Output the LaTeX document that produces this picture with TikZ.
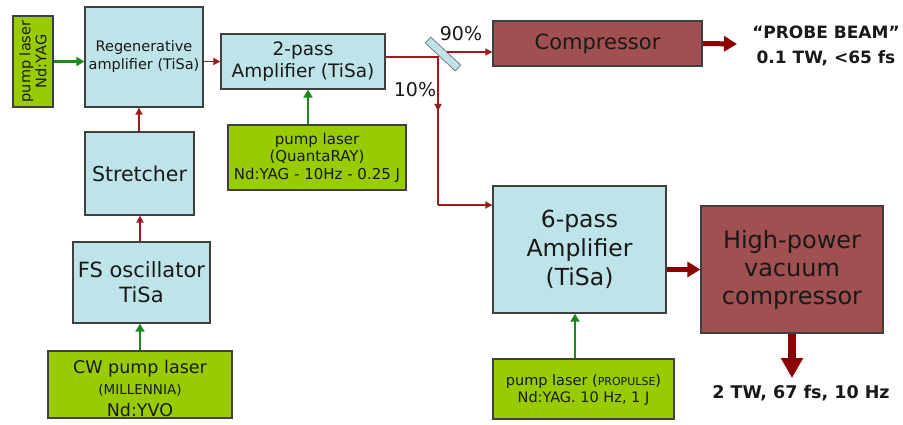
\documentclass[tikz,border=0pt]{standalone}
\usepackage{fontspec}
\setmainfont{DejaVu Sans}
\usetikzlibrary{arrows.meta,calc}
\definecolor{boxblue}{HTML}{BEE3E8}
\definecolor{pumpgreen}{HTML}{99CC00}
\definecolor{comprred}{HTML}{A05050}
\definecolor{edgegray}{HTML}{404040}
\definecolor{beamred}{HTML}{9E1B1B}
\definecolor{beamdark}{HTML}{8B0000}
\definecolor{pumpline}{HTML}{1E8A1E}
\definecolor{mirrorblue}{HTML}{BEE3E8}
\newcommand{\fsz}[2]{\fontsize{#1}{#2}\selectfont}

\begin{document}
\begin{tikzpicture}[x=1pt,y=-1pt,
  box/.style={draw=edgegray, line width=1.3pt, inner sep=0pt, align=center, text=black!90},
  bluebox/.style={box, fill=boxblue},
  greenbox/.style={box, fill=pumpgreen},
  redbox/.style={box, fill=comprred},
  pumparrow/.style={draw=pumpline, line width=2.8pt, -{Triangle[length=8pt,width=9pt]}},
  beamarrow/.style={draw=beamred, line width=1.7pt, -{Triangle[length=7pt,width=7pt]}},
  beamline/.style={draw=beamred, line width=1.7pt},
  fatarrow/.style={draw=beamdark, line width=5pt, -{Triangle[length=13pt,width=15pt]}},
  label/.style={inner sep=0pt, align=center, text=black!90},
]
\useasboundingbox (0,0) rectangle (903,425);

% ---- front end: oscillator, stretcher, regenerative amplifier ----
\node[greenbox, minimum width=40, minimum height=91] (pumpL) at (33,61.5) {};
\node[label, rotate=90, font=\fsz{14.5}{16}] (pumpLtext) at (pumpL) {pump laser\\Nd:YAG};
\node[bluebox, minimum width=118, minimum height=100, font=\fsz{14.5}{18}] (regen) at (144,57) {Regenerative\\amplifier (TiSa)};
\node[bluebox, minimum width=109, minimum height=83, font=\fsz{20.5}{24}] (stretch) at (139.5,173.5) {Stretcher};
\node[bluebox, minimum width=137, minimum height=81, font=\fsz{21}{25}] (fsosc) at (141.5,282.5) {FS oscillator\\TiSa};
\node[greenbox, minimum width=184, minimum height=67] (cwpump) at (140,384.5) {};
\node[label, font=\fsz{17.5}{22}] (cwtext) at (140,388.5) {CW pump laser\\[-1pt]{\fsz{13.5}{15}(MILLENNIA)}\\[0pt]Nd:YVO};

% ---- two-pass amplifier and its pump ----
\node[bluebox, minimum width=164, minimum height=55, font=\fsz{18.5}{22}] (twopass) at (303,61.5) {2-pass\\Amplifier (TiSa)};
\node[greenbox, minimum width=178, minimum height=65, font=\fsz{15}{17.5}] (quanta) at (317,157.5) {pump laser\\(QuantaRAY)\\Nd:YAG - 10Hz - 0.25 J};

% ---- beam splitter and probe line ----
\node[draw=edgegray!70, fill=mirrorblue, line width=0.8pt, minimum width=41, minimum height=8, inner sep=0pt, rotate=-43] (mirror) at (443,54) {};
\node[redbox, minimum width=209, minimum height=45, font=\fsz{21}{24}] (compr) at (597.5,43.5) {Compressor};
\node[label, font=\bfseries\fsz{17}{25}] (probe) at (826,45.5) {“PROBE BEAM”\\0.1 TW, <65 fs};
\node[label, font=\fsz{19}{20}] (p90) at (461,34) {90\%};
\node[label, font=\fsz{19}{20}] (p10) at (415,89.5) {10\%};

% ---- main amplification chain ----
\node[bluebox, minimum width=173, minimum height=127, font=\fsz{23.5}{29}] (sixpass) at (579.5,249.5) {6-pass\\Amplifier\\(TiSa)};
\node[redbox, minimum width=182, minimum height=127, font=\fsz{24}{28}] (hpcomp) at (792,269.5) {High-power\\vacuum\\compressor};
\node[greenbox, minimum width=181, minimum height=60] (propulse) at (583.5,389) {};
\node[label, font=\fsz{14.5}{17}] (proptext) at (583.5,390) {pump laser ({\fsz{11}{12}PROPULSE})\\Nd:YAG. 10 Hz, 1 J};
\node[label, font=\bfseries\fsz{17.5}{20}] (mainout) at (801,393) {2 TW, 67 fs, 10 Hz};

% ---- beam routing points ----
\coordinate (split) at (438,57);
\coordinate (down) at (438,111);
\coordinate (turn) at (438,205);
\coordinate (m90) at (447,52);
\coordinate (probetip) at (737,44);
\coordinate (maintip) at (792,378);

% ---- pump connections ----
\draw[pumparrow] (pumpL.east) -- (pumpL.east -| regen.west);
\draw[pumparrow] (cwpump.north) -- (cwpump.north |- fsosc.south);
\draw[pumparrow] (quanta.north -| 308,0) -- (twopass.south -| 308,0);
\draw[pumparrow] (propulse.north -| 575,0) -- (sixpass.south -| 575,0);

% ---- seed beam ----
\draw[beamarrow] (fsosc.north -| 140,0) -- (stretch.south -| 140,0);
\draw[beamarrow] (stretch.north -| 139,0) -- (regen.south -| 139,0);
\draw[beamarrow] (regen.east |- twopass.west) -- (twopass.west);
\draw[beamline] (twopass.east |- split) -- (split) -- (turn);
\draw[beamarrow] (split) -- (down);
\draw[beamarrow] (turn) -- (turn -| sixpass.west);
\draw[beamarrow] (m90) -- (m90 -| compr.west);

% ---- amplified outputs ----
\draw[fatarrow] (compr.east) -- (probetip);
\draw[fatarrow] (sixpass.east |- hpcomp.west) -- (hpcomp.west);
\draw[draw=beamdark, line width=7.5pt, -{Triangle[length=20pt,width=21pt]}] (hpcomp.south) -- (maintip);
\end{tikzpicture}
\end{document}
